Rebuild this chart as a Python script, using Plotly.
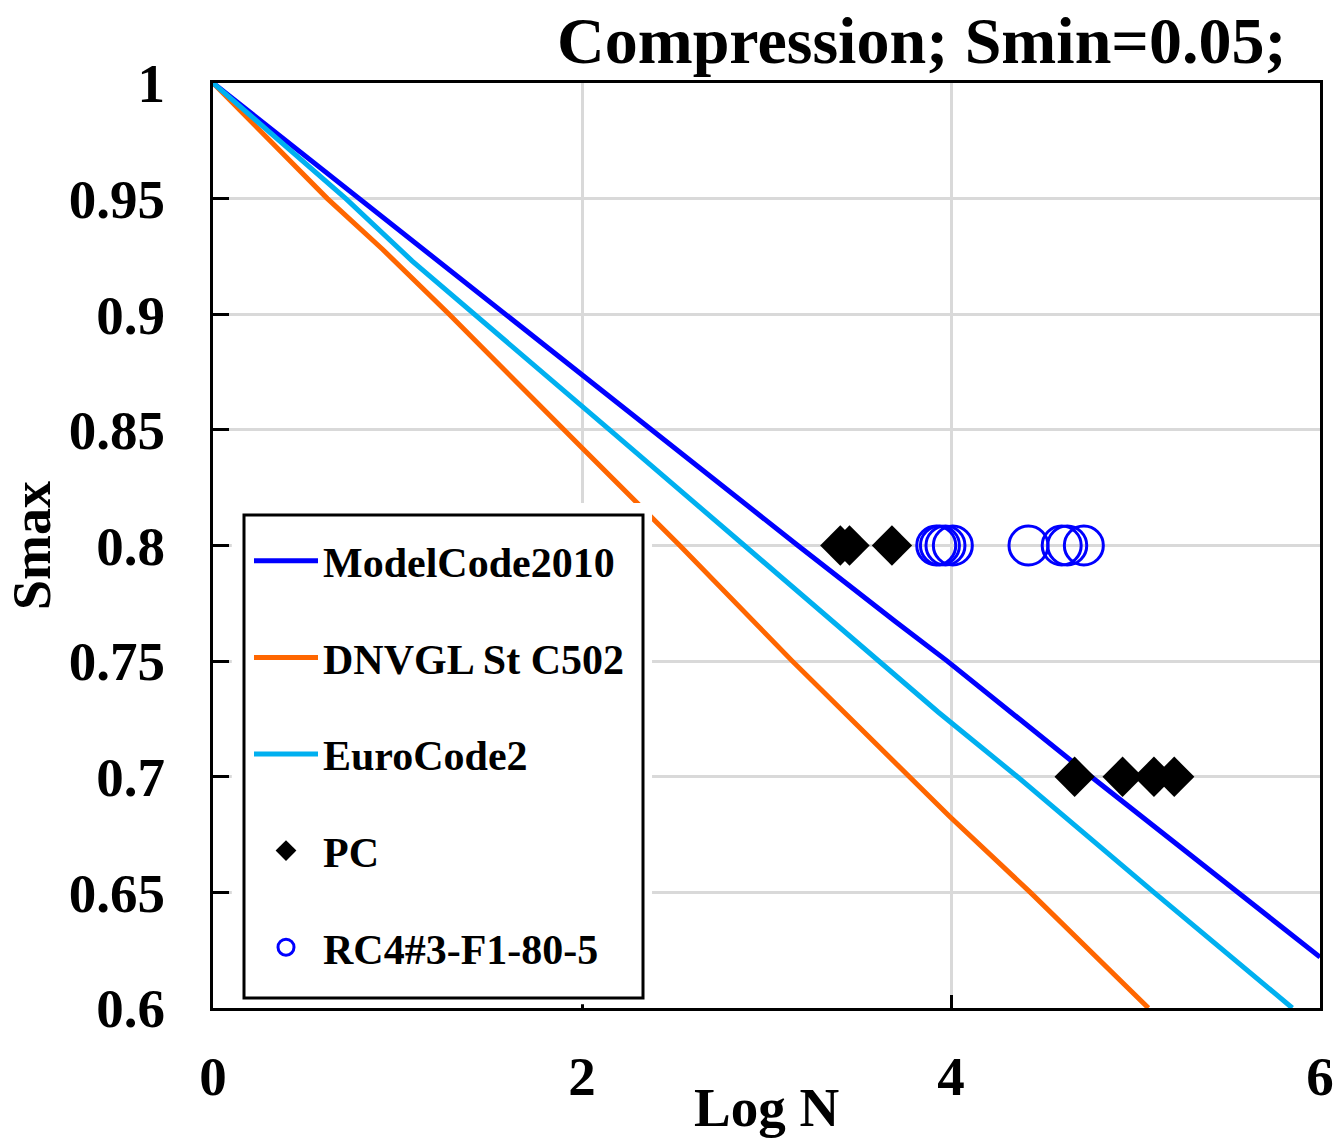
import plotly.graph_objects as go

# S-N curves for compression, Smin = 0.05 (log N vs Smax)
mc2010_logn = [0, 0.79, 1.59, 2.38, 3.17, 3.70, 3.98, 4.76, 5.52, 6.0]
mc2010_smax = [1.0, 0.95, 0.90, 0.85, 0.80, 0.767, 0.75, 0.70, 0.652, 0.622]

dnvgl_logn = [0, 0.62, 0.92, 1.28, 1.99, 2.53, 3.14, 3.77, 3.99, 4.43, 5.07]
dnvgl_smax = [1.0, 0.95, 0.928, 0.90, 0.843, 0.80, 0.75, 0.70, 0.683, 0.65, 0.60]

ec2_logn = [0, 0.72, 1.08, 1.42, 2.15, 2.88, 3.61, 3.93, 4.36, 4.80, 5.10, 5.85]
ec2_smax = [1.0, 0.95, 0.923, 0.90, 0.85, 0.80, 0.75, 0.728, 0.70, 0.67, 0.65, 0.60]

# Test results
pc_logn = [3.40, 3.45, 3.68, 4.67, 4.93, 5.10, 5.21]
pc_smax = [0.80, 0.80, 0.80, 0.70, 0.70, 0.70, 0.70]

rc_logn = [3.92, 3.94, 3.97, 4.01, 4.42, 4.60, 4.63, 4.72]
rc_smax = [0.80, 0.80, 0.80, 0.80, 0.80, 0.80, 0.80, 0.80]

x_ticks = [0, 2, 4, 6]
x_tick_text = ["0", "2", "4", "6"]
y_ticks = [0.6, 0.65, 0.7, 0.75, 0.8, 0.85, 0.9, 0.95, 1.0]
y_tick_text = ["0.6", "0.65", "0.7", "0.75", "0.8", "0.85", "0.9", "0.95", "1"]

SERIF = "Liberation Serif"

fig = go.Figure()
fig.add_trace(go.Scatter(x=mc2010_logn, y=mc2010_smax, mode="lines", name="ModelCode2010",
                         legendgroup="a", line=dict(color="#0000FF", width=5)))
fig.add_trace(go.Scatter(x=dnvgl_logn, y=dnvgl_smax, mode="lines", name="DNVGL St C502",
                         legendgroup="b", line=dict(color="#FF6600", width=5)))
fig.add_trace(go.Scatter(x=ec2_logn, y=ec2_smax, mode="lines", name="EuroCode2",
                         legendgroup="c", line=dict(color="#00B0F0", width=5)))
fig.add_trace(go.Scatter(x=pc_logn, y=pc_smax, mode="markers", name="PC", legendgroup="d",
                         marker=dict(symbol="diamond", size=31, color="black", line=dict(width=0))))
fig.add_trace(go.Scatter(x=rc_logn, y=rc_smax, mode="markers", name="RC4#3-F1-80-5", legendgroup="e",
                         marker=dict(symbol="circle-open", size=39, color="#0000FF",
                                     line=dict(width=3, color="#0000FF"))))

axis_common = dict(
    showline=True, linecolor="black", linewidth=3, mirror=True, automargin=False,
    showgrid=True, gridcolor="#D9D9D9", gridwidth=3,
    zeroline=False, ticks="inside", tickcolor="black", tickwidth=3,
    tickfont=dict(family=SERIF, size=55, color="black", weight="bold"),
)

fig.update_xaxes(range=[0, 6], tickvals=x_ticks, ticktext=x_tick_text, ticklen=13,
                 ticklabelstandoff=18, **axis_common)
fig.update_yaxes(range=[0.6, 1.0], tickvals=y_ticks, ticktext=y_tick_text, ticklen=16,
                 ticklabelstandoff=34, **axis_common)

# white backing behind the legend, then the legend frame
fig.add_shape(type="rect", xref="paper", yref="paper", x0=0.017, x1=0.3966, y0=0.004, y1=0.546,
              fillcolor="white", line=dict(width=0), layer="above")
fig.add_shape(type="rect", xref="paper", yref="paper",
              x0=(244 - 213) / 1107, x1=(643 - 213) / 1107,
              y0=(1008 - 998) / 925, y1=(1008 - 515) / 925,
              fillcolor="rgba(0,0,0,0)", line=dict(width=3, color="black"), layer="above")

fig.update_layout(
    width=1335, height=1138,
    margin=dict(l=213, r=15, t=83, b=130),
    paper_bgcolor="white", plot_bgcolor="white",
    showlegend=True,
    legend=dict(x=(249 - 213) / 1107, y=(1008 - 527) / 925, xanchor="left", yanchor="top",
                bgcolor="rgba(0,0,0,0)", borderwidth=0,
                font=dict(family=SERIF, size=42, color="black", weight="bold"),
                tracegroupgap=39, itemwidth=64, itemsizing="trace"),
    annotations=[
        dict(text="Compression; Smin=0.05;", xref="paper", yref="paper",
             x=(1288 - 213) / 1107, y=1.046, xanchor="right", yanchor="middle", showarrow=False,
             font=dict(family=SERIF, size=66, color="black", weight="bold")),
        dict(text="Log N", xref="paper", yref="paper", x=0.5, y=-0.108,
             xanchor="center", yanchor="middle", showarrow=False,
             font=dict(family=SERIF, size=55, color="black", weight="bold")),
        dict(text="Smax", xref="paper", yref="paper", x=-0.164, y=0.5, textangle=-90,
             xanchor="center", yanchor="middle", showarrow=False,
             font=dict(family=SERIF, size=54, color="black", weight="bold")),
    ],
)

fig.write_html("out.html")
